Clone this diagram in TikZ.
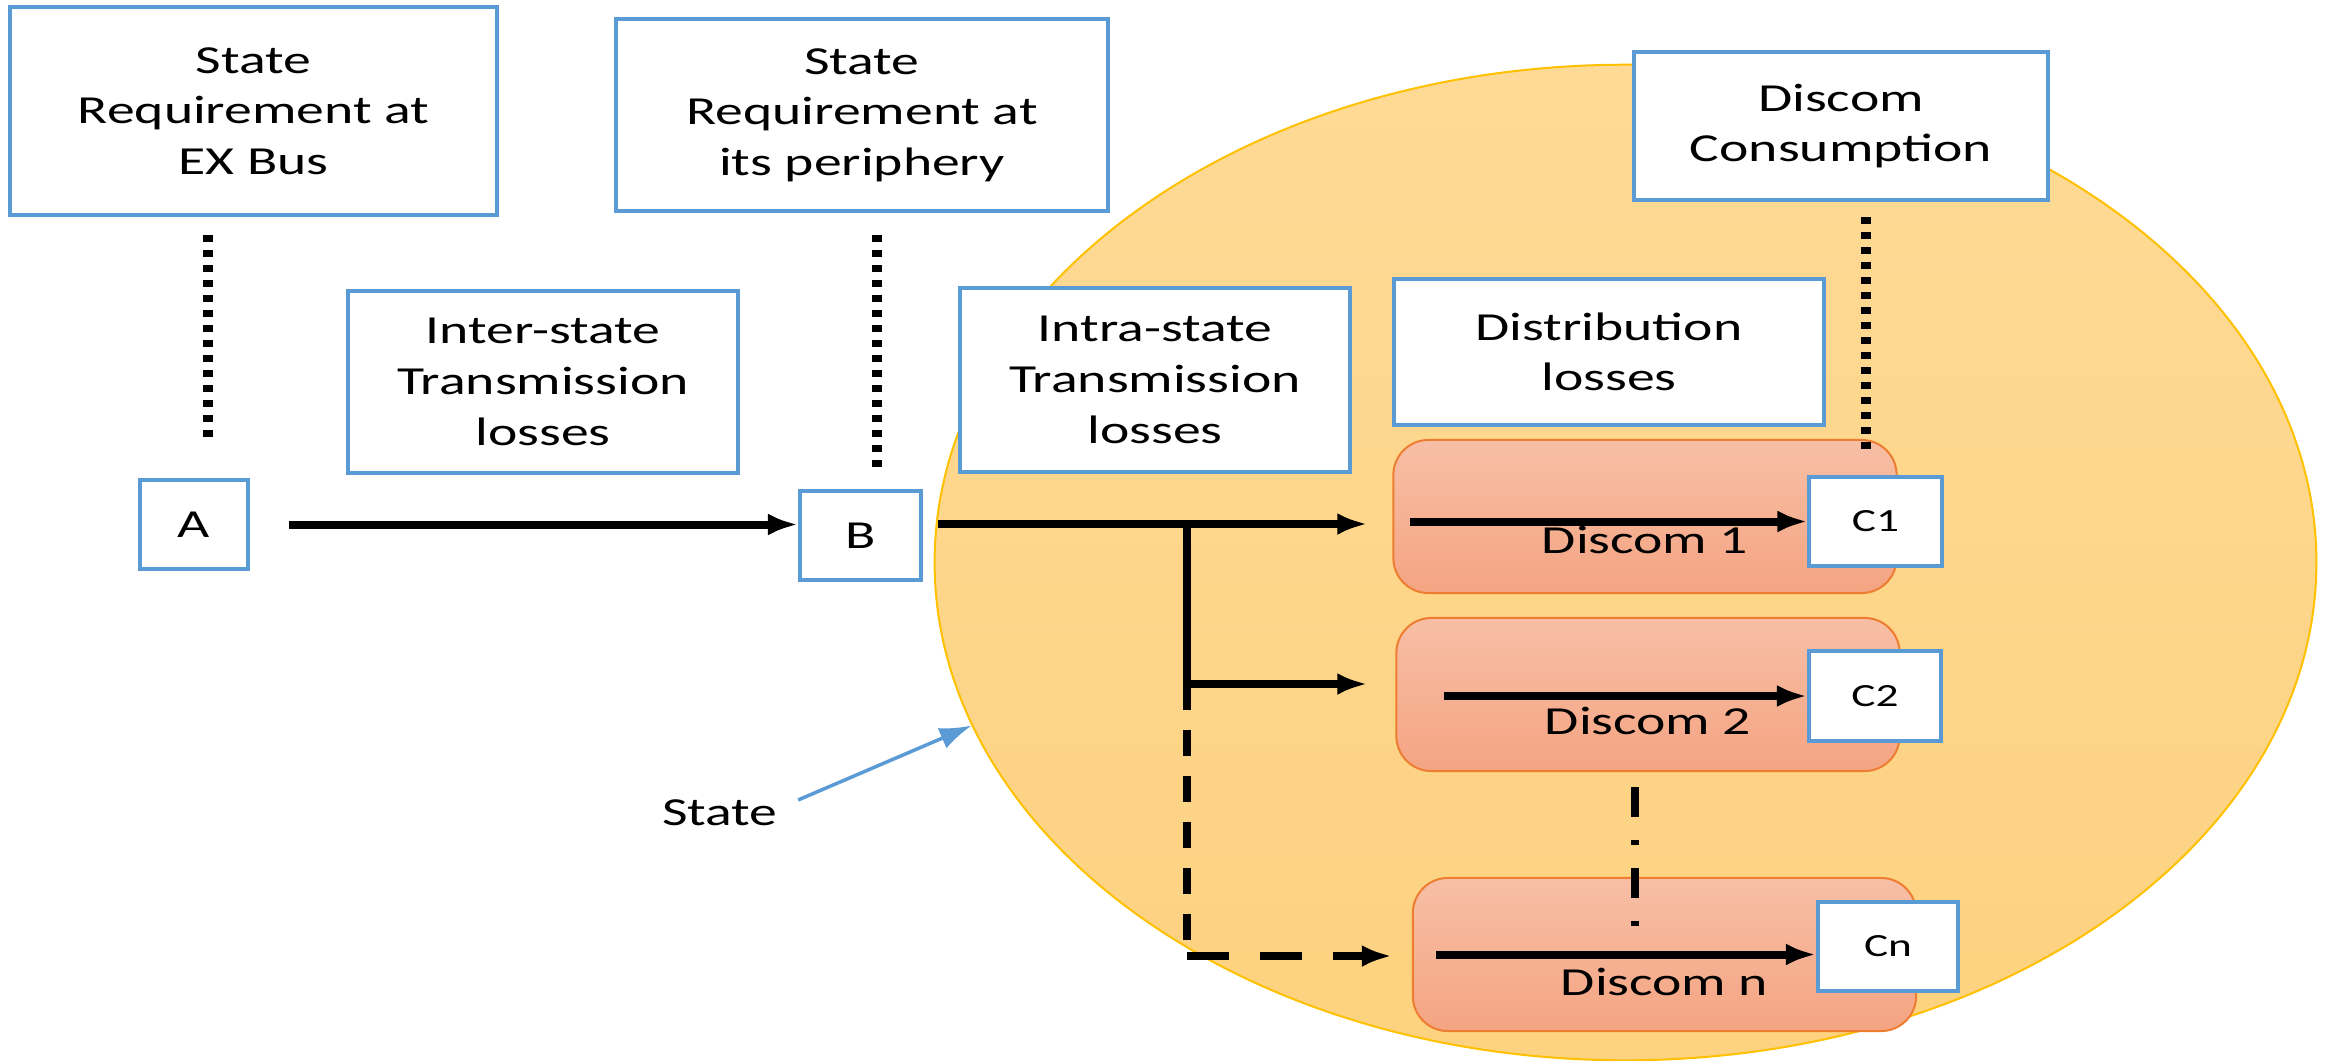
\documentclass[tikz,border=0pt]{standalone}
\usepackage{fontspec}
\setmainfont{Carlito}[FakeStretch=1.4]
\usetikzlibrary{arrows.meta,shapes.geometric}
\definecolor{boxblue}{RGB}{91,155,213}
\definecolor{stateline}{RGB}{255,192,0}
\definecolor{statetop}{RGB}{254,218,150}
\definecolor{statebot}{RGB}{253,210,128}
\definecolor{discomtop}{RGB}{247,191,166}
\definecolor{discombot}{RGB}{244,164,130}
\definecolor{discomline}{RGB}{237,125,49}
\tikzset{
  infobox/.style = {draw = boxblue, line width = .04cm, fill = white,
    align = center, inner sep = 0pt},
  cbox/.style = {infobox, minimum width = 1.32cm, minimum height = .89cm,
    font = \fontsize{9.2}{10}\selectfont},
  discom/.style = {draw = discomline, line width = .02cm,
    rounded corners = .35cm, top color = discomtop, bottom color = discombot,
    inner sep = 0pt, minimum width = 5.03cm, minimum height = 1.53cm},
  flow/.style = {line width = .08cm, -{Latex[length = .3cm, width = .22cm]}},
  dotline/.style = {line width = .095cm, dash pattern = on .07cm off .08cm},
  pointer/.style = {draw = boxblue, line width = .035cm,
    -{Latex[length = .32cm, width = .22cm]}}
}
\begin{document}
\begin{tikzpicture}[x = .01cm, y = -.01cm,
  font = \fontsize{11.3}{14.4}\selectfont]
  \useasboundingbox (0, 0) rectangle (2326, 1060);
  % the state
  \node[ellipse, draw = stateline, line width = .02cm, top color = statetop,
  bottom color = statebot, minimum width = 13.81cm, minimum height = 9.95cm,
  inner sep = 0pt] (state) at (1625.5, 562.5) {};
  \node (statelbl) at (720, 813) {State};
  \draw[pointer] ([xshift = .08cm, yshift = .13cm]statelbl.east) --
  (state.194.5);

  % text boxes
  \node[infobox, minimum width = 4.87cm, minimum height = 2.08cm] (reqex) at
  (253.5, 111) {State\\Requirement at\\EX Bus};
  \node[infobox, minimum width = 4.92cm, minimum height = 1.92cm] (reqper) at
  (862, 115) {State\\Requirement at\\its periphery};
  \node[infobox, minimum width = 3.9cm, minimum height = 1.82cm] (inter) at
  (543, 382) {Inter-state\\Transmission\\losses};
  \node[infobox, minimum width = 3.9cm, minimum height = 1.83cm] (intra) at
  (1155, 380) {Intra-state\\Transmission\\losses};
  \node[infobox, minimum width = 4.3cm, minimum height = 1.46cm] (dist) at
  (1609, 352) {Distribution\\losses};
  \node[infobox, minimum width = 4.14cm, minimum height = 1.48cm] (cons) at
  (1841, 126) {Discom\\Consumption};

  % points A and B
  \node[infobox, minimum width = 1.08cm, minimum height = .89cm] (A) at
  (194, 524.5) {A};
  \node[infobox, minimum width = 1.21cm, minimum height = .89cm] (B) at
  (860.5, 535.5) {B};

  % discoms
  \node[discom, label = {[yshift = -.23cm]center:Discom 1}] (d1) at
  (1645, 516.5) {};
  \node[discom, label = {[yshift = -.26cm]center:Discom 2}] (d2) at
  (1648, 694.5) {};
  \node[discom, label = {[yshift = -.27cm]center:Discom n}] (dn) at
  (1664.5, 954.5) {};
  \node[cbox] (c1) at (1875.5, 521.5) {C1};
  \node[cbox] (c2) at (1875, 696) {C2};
  \node[cbox, minimum width = 1.4cm] (cn) at (1888, 946.5) {Cn};

  % requirement markers
  \draw[dotline] ([xshift = .14cm, yshift = -.18cm]reqex.south -| A.north) --
  ([xshift = .14cm, yshift = .35cm]A.north);
  \draw[dotline] ([xshift = .165cm, yshift = -.22cm]reqper.south -| B.north) --
  ([xshift = .165cm, yshift = .16cm]B.north);
  \draw[dotline] ([xshift = -.095cm, yshift = -.15cm]cons.south -| c1.north) --
  ([xshift = -.095cm, yshift = .18cm]c1.north);
  \draw[line width = .08cm, dash pattern = on .3cm off .23cm on .05cm off .23cm]
  ([xshift = -.13cm, yshift = -.15cm]d2.south) -- ++(0, 141);

  % energy flow
  \coordinate (split) at (1187, 524);
  \coordinate (split2) at (1187, 684);
  \coordinate (splitn) at (1187, 956);
  \draw[flow] ([xshift = .39cm]A.east) -- (A.east -| B.west);
  \draw[flow] ([xshift = .15cm]B.east |- split) --
  ([xshift = -.25cm]d1.west |- split);
  \draw[flow] (split) -- (split2) -- ([xshift = -.28cm]d2.west |- split2);
  \draw[line width = .085cm, dash pattern = on .26cm off .2cm] (split2) --
  (splitn);
  \draw[flow, dash pattern = on .42cm off .31cm] (splitn) --
  ([xshift = -.2cm]dn.west |- splitn);
  \draw[flow] ([xshift = .18cm]d1.west |- c1.west) -- (c1.west);
  \draw[flow] ([xshift = .49cm]d2.west |- c2.west) -- (c2.west);
  \draw[flow] ([xshift = .24cm, yshift = -.08cm]dn.west |- cn.west) --
  ([yshift = -.08cm]cn.west);
\end{tikzpicture}
\end{document}
